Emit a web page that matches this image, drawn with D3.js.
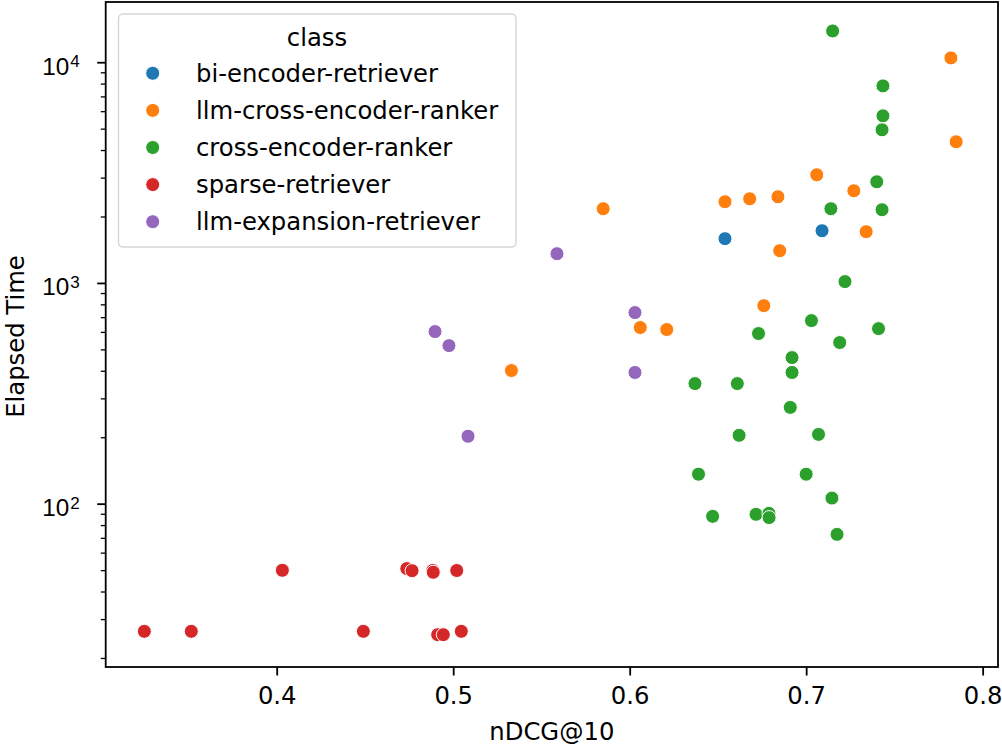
<!DOCTYPE html>
<html>
<head>
<meta charset="utf-8">
<script src="https://cdn.jsdelivr.net/npm/d3@7"></script>
<style>
  body { margin: 0; background: #fff; }
  svg { display: block; font-family: "DejaVu Sans", sans-serif; }
</style>
</head>
<body>
<div id="container"></div>
<script>
// class names, in legend order
var classes = ["bi-encoder-retriever", "llm-cross-encoder-ranker", "cross-encoder-ranker", "sparse-retriever", "llm-expansion-retriever"];
var colors = ["#1f77b4", "#ff7f0e", "#2ca02c", "#d62728", "#9467bd"];

// nDCG@10 / elapsed time, one pair of arrays per class
var biNdcg = [0.654, 0.709];
var biTime = [1587, 1724];

var llmRankNdcg = [0.585, 0.654, 0.668, 0.684, 0.706, 0.727, 0.734, 0.685, 0.782, 0.785, 0.533, 0.606, 0.621, 0.676];
var llmRankTime = [2169, 2333, 2406, 2457, 3090, 2616, 1707, 1400, 10460, 4360, 401, 628, 615, 789];

var crossNdcg = [0.715, 0.7435, 0.7435, 0.743, 0.740, 0.714, 0.743, 0.722, 0.703, 0.741, 0.673, 0.719, 0.692, 0.692,
  0.637, 0.661, 0.691, 0.662, 0.707, 0.639, 0.700, 0.7146, 0.647, 0.6716, 0.6789, 0.679, 0.7175];
var crossTime = [13855, 7812, 5715, 4940, 2873, 2169, 2146, 1014, 675, 621, 590, 537, 459, 393,
  350, 350, 273, 204, 206, 136, 136, 106, 87.6, 89.5, 90.4, 86.5, 72.6];

var sparseNdcg = [0.325, 0.3516, 0.4032, 0.4491, 0.4737, 0.4767, 0.4884, 0.4887, 0.502, 0.4912, 0.4944, 0.5046];
var sparseTime = [26.4, 26.4, 49.9, 26.4, 50.8, 49.7, 49.8, 48.9, 49.8, 25.5, 25.5, 26.4];

var expNdcg = [0.5588, 0.603, 0.603, 0.4897, 0.4976, 0.5084];
var expTime = [1357, 734, 393, 602, 520, 202];

var xTicks = [0.4, 0.5, 0.6, 0.7, 0.8];
var yMajor = [100, 1000, 10000];
var yExp = ["2", "3", "4"];

var width = 1002, height = 746;
var pLeft = 105.7, pRight = 998, pTop = 2, pBottom = 667;
var fs = 24.3;

var x = d3.scaleLinear().domain([0.3031, 0.8087]).range([pLeft, pRight]);
var y = d3.scaleLog().domain([18.2, 18740]).range([pBottom, pTop]);

var svg = d3.select("#container").append("svg")
  .attr("width", width)
  .attr("height", height);

var points = [];
var series = [[biNdcg, biTime], [llmRankNdcg, llmRankTime], [crossNdcg, crossTime], [sparseNdcg, sparseTime], [expNdcg, expTime]];
series.forEach(function(s, c) {
  for (var i = 0; i < s[0].length; i++) {
    points.push({ nd: s[0][i], t: s[1][i], c: c });
  }
});

svg.append("g")
  .selectAll("circle")
  .data(points)
  .enter().append("circle")
  .attr("cx", function(d) { return x(d.nd); })
  .attr("cy", function(d) { return y(d.t); })
  .attr("r", 7)
  .attr("fill", function(d) { return colors[d.c]; })
  .attr("stroke", "#fff")
  .attr("stroke-width", 1);

// x axis
var xAxis = svg.append("g")
  .attr("transform", "translate(0," + pBottom + ")")
  .call(d3.axisBottom(x).tickValues(xTicks).tickSize(8.5).tickPadding(11).tickFormat(d3.format(".1f")));
xAxis.select(".domain").remove();
xAxis.selectAll("line").attr("stroke", "#000").attr("stroke-width", 1.8);
xAxis.selectAll("text").attr("font-size", fs).attr("font-family", "DejaVu Sans").attr("fill", "#000");

// y axis: minor ticks then majors
var yMinor = [];
[10, 100, 1000, 10000].forEach(function(dec) {
  for (var k = 2; k <= 9; k++) {
    var v = dec * k;
    if (v > 18.2 && v < 18740) yMinor.push(v);
  }
});
var yMin = svg.append("g")
  .attr("transform", "translate(" + pLeft + ",0)")
  .call(d3.axisLeft(y).tickValues(yMinor).tickSize(4.9).tickFormat(""));
yMin.select(".domain").remove();
yMin.selectAll("line").attr("stroke", "#000").attr("stroke-width", 1.3);

var yAx = svg.append("g")
  .attr("transform", "translate(" + pLeft + ",0)")
  .call(d3.axisLeft(y).tickValues(yMajor).tickSize(8.5).tickFormat(""));
yAx.select(".domain").remove();
yAx.selectAll("line").attr("stroke", "#000").attr("stroke-width", 1.8);
yAx.selectAll(".tick").each(function(d, i) {
  var t = d3.select(this).append("text")
    .attr("x", -63.4)
    .attr("y", 12)
    .attr("text-anchor", "start")
    .attr("font-size", fs)
    .attr("fill", "#000");
  t.append("tspan").text("10");
  t.append("tspan")
    .attr("font-size", fs * 0.7)
    .attr("dy", -7.6)
    .attr("dx", 1)
    .text(yExp[i]);
});

// frame
svg.append("rect")
  .attr("x", pLeft).attr("y", pTop)
  .attr("width", pRight - pLeft).attr("height", pBottom - pTop)
  .attr("fill", "none").attr("stroke", "#000").attr("stroke-width", 1.8);

// axis labels
svg.append("text")
  .attr("x", (pLeft + pRight) / 2)
  .attr("y", 739.5)
  .attr("text-anchor", "middle")
  .attr("font-size", fs)
  .text("nDCG@10");

svg.append("text")
  .attr("transform", "translate(24," + ((pTop + pBottom) / 2 + 2) + ") rotate(-90)")
  .attr("text-anchor", "middle")
  .attr("font-size", fs)
  .text("Elapsed Time");

// legend
var lg = svg.append("g");
lg.append("rect")
  .attr("x", 118.5).attr("y", 14)
  .attr("width", 397.5).attr("height", 233)
  .attr("rx", 4.5)
  .attr("fill", "rgba(255,255,255,0.8)")
  .attr("stroke", "#d6d6d6")
  .attr("stroke-width", 1.4);
lg.append("text")
  .attr("x", 317)
  .attr("y", 45.5)
  .attr("text-anchor", "middle")
  .attr("font-size", fs)
  .text("class");
var rows = lg.selectAll(".row")
  .data(classes)
  .enter().append("g")
  .attr("class", "row")
  .attr("transform", function(d, i) { return "translate(0," + (73.3 + i * 37.1) + ")"; });
rows.append("circle")
  .attr("cx", 152.7).attr("cy", 0).attr("r", 7)
  .attr("fill", function(d, i) { return colors[i]; })
  .attr("stroke", "#fff").attr("stroke-width", 1);
rows.append("text")
  .attr("x", 196)
  .attr("y", 8.4)
  .attr("font-size", fs)
  .text(function(d) { return d; });
</script>
</body>
</html>
